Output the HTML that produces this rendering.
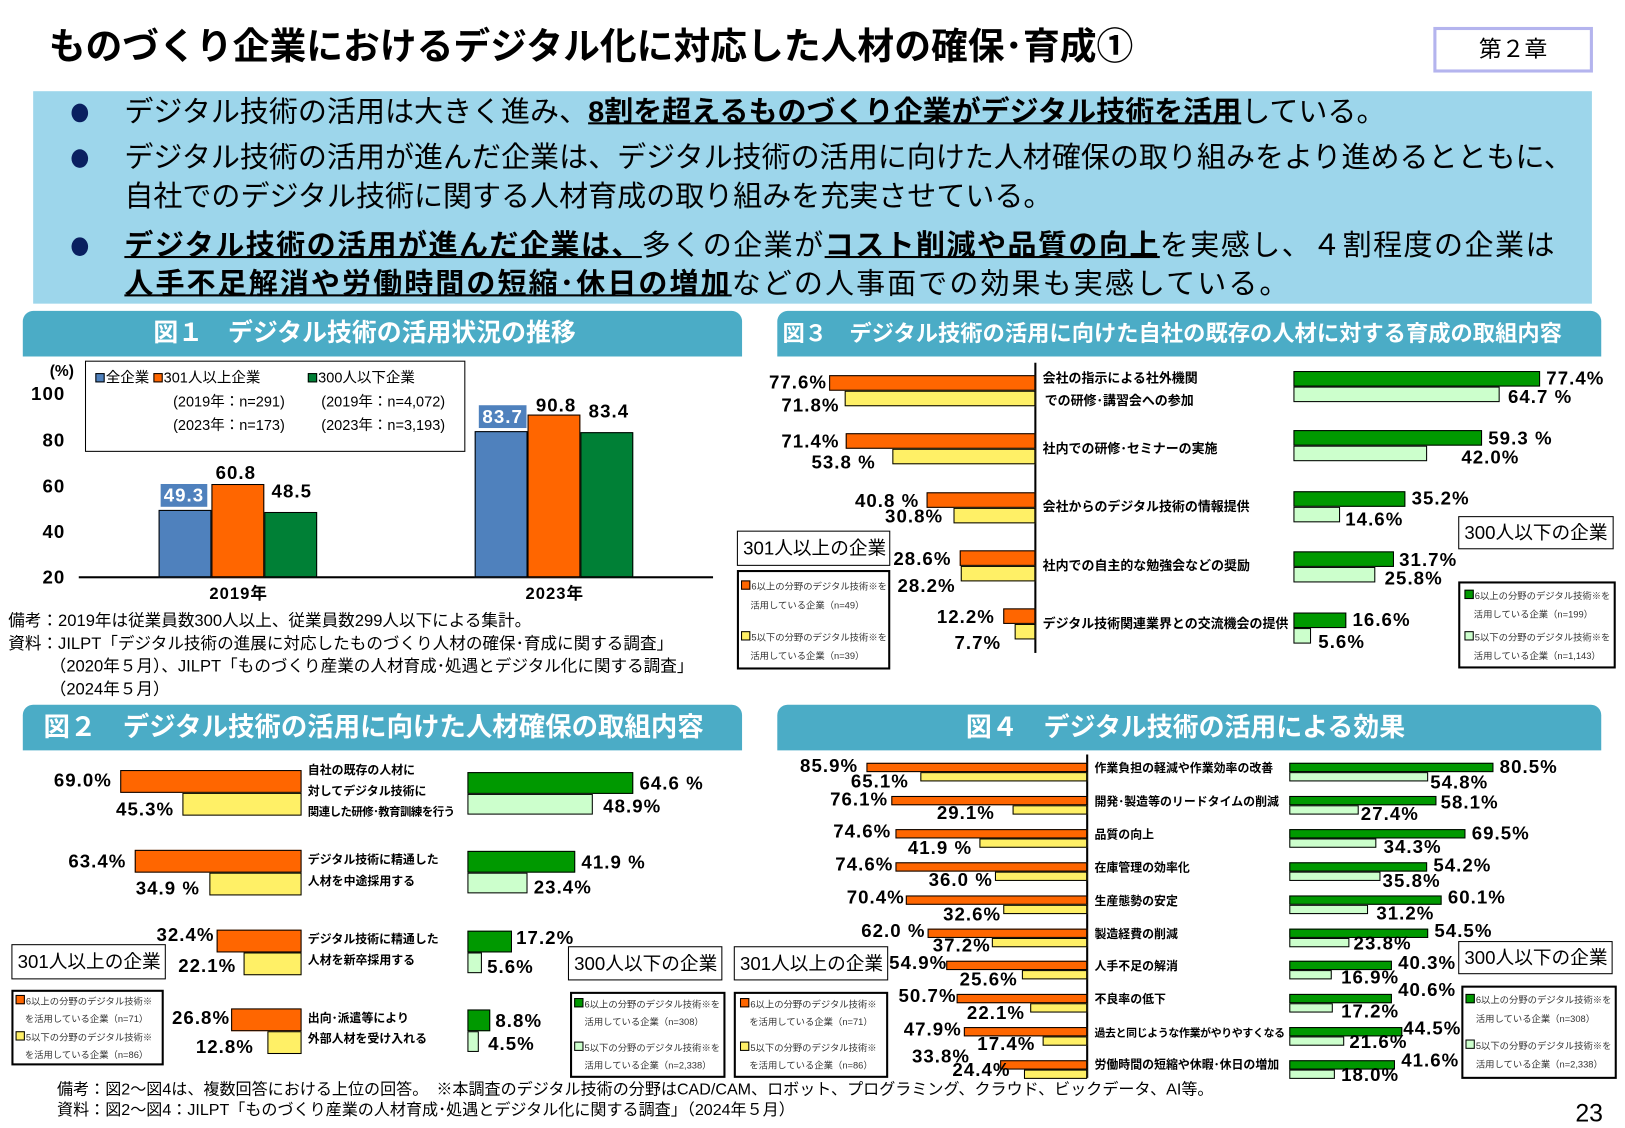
<!DOCTYPE html>
<html><head><meta charset="utf-8">
<style>
html,body{margin:0;padding:0;background:#fff;width:1625px;height:1125px;overflow:hidden}
#w{position:absolute;left:0;top:0;width:1568px;height:1085px;transform:scale(1.0364);transform-origin:0 0;font-family:"Liberation Sans","Noto Sans CJK JP",sans-serif;color:#000}
#w div{position:absolute;white-space:nowrap}
.o{background:#ff6600;border:1px solid #000;box-sizing:border-box}
.y{background:#fff066;border:1px solid #000;box-sizing:border-box}
.g{background:#009900;border:1px solid #000;box-sizing:border-box}
.l{background:#ccffcc;border:1px solid #000;box-sizing:border-box}
.v{font-family:"Liberation Sans Narrow","Liberation Sans","Noto Sans CJK JP",sans-serif;font-weight:bold;font-size:18px;line-height:18px;letter-spacing:1px}
.r{transform:translateX(-100%)}
.c{font-weight:bold;font-size:12.5px;line-height:14px}
.hd{background:#4bacc6;color:#fff;font-weight:bold;border-radius:10px 10px 0 0;height:44px;line-height:44px}
.bx{border:1px solid #000;background:#fff;font-size:18px;line-height:32px;padding:0 5px;box-sizing:border-box}
.lg{border:2px solid #000;background:#fff;box-sizing:border-box;font-size:9px;line-height:17px;color:#333;overflow:hidden}
.sq{display:inline-block;width:7px;height:7px;border:1px solid #000;margin-right:1px;vertical-align:0}
.bt{font-size:28px;line-height:36px}
.bt b{text-decoration:underline;text-decoration-thickness:2px}
.dot{width:16px;height:18px;border-radius:50%;background:#0a2060}
</style></head><body><div id="w">

<div style="left:47px;top:22px;font-size:35.5px;font-weight:bold;line-height:46px">ものづくり企業におけるデジタル化に対応した人材の確保･育成①</div>
<div style="left:1383px;top:26px;width:154px;height:44px;border:3px solid #b4b4ee;box-sizing:border-box;text-align:center;font-size:22px;line-height:38px">第２章</div>

<div style="left:32px;top:88px;width:1504px;height:205px;background:#9dd6eb"></div>
<div class="dot" style="left:69px;top:100px"></div>
<div class="dot" style="left:69px;top:144px"></div>
<div class="dot" style="left:69px;top:229px"></div>
<div class="bt" style="left:120px;top:90px">デジタル技術の活用は大きく進み、<b>8割を超えるものづくり企業がデジタル技術を活用</b>している。</div>
<div class="bt" style="left:120px;top:134px">デジタル技術の活用が進んだ企業は、デジタル技術の活用に向けた人材確保の取り組みをより進めるとともに、</div>
<div class="bt" style="left:120px;top:172px">自社でのデジタル技術に関する人材育成の取り組みを充実させている。</div>
<div class="bt" style="left:120px;top:219px;letter-spacing:1.4px"><b>デジタル技術の活用が進んだ企業は、</b>多くの企業が<b>コスト削減や品質の向上</b>を実感し、４割程度の企業は</div>
<div class="bt" style="left:120px;top:256px;letter-spacing:2px"><b>人手不足解消や労働時間の短縮･休日の増加</b>などの人事面での効果も実感している。</div>

<div class="hd" style="left:22px;top:300px;width:694px;font-size:24px;text-indent:126px">図１　デジタル技術の活用状況の推移</div>
<div class="hd" style="left:750px;top:300px;width:795px;font-size:21.5px;text-indent:5px">図３　デジタル技術の活用に向けた自社の既存の人材に対する育成の取組内容</div>
<div class="hd" style="left:22px;top:680px;width:694px;font-size:25.5px;text-indent:20px">図２　デジタル技術の活用に向けた人材確保の取組内容</div>
<div class="hd" style="left:750px;top:680px;width:795px;font-size:25px;text-indent:182px">図４　デジタル技術の活用による効果</div>

<!-- FIG 1 -->
<div style="left:48px;top:350px;font-size:15px;font-weight:bold">(%)</div>
<div class="v r" style="left:63px;top:371px">100</div>
<div class="v r" style="left:63px;top:416px">80</div>
<div class="v r" style="left:63px;top:460px">60</div>
<div class="v r" style="left:63px;top:504px">40</div>
<div class="v r" style="left:63px;top:548px">20</div>
<div style="left:76px;top:556px;width:612px;height:1.5px;background:#000"></div>
<div style="left:153px;top:492px;width:51px;height:65px;background:#4f81bd;border:1px solid #000;box-sizing:border-box"></div>
<div style="left:204px;top:467px;width:51px;height:90px;background:#ff6600;border:1px solid #000;box-sizing:border-box"></div>
<div style="left:255px;top:494px;width:51px;height:63px;background:#008036;border:1px solid #000;box-sizing:border-box"></div>
<div style="left:458px;top:416px;width:51px;height:141px;background:#4f81bd;border:1px solid #000;box-sizing:border-box"></div>
<div style="left:509px;top:400px;width:51px;height:157px;background:#ff6600;border:1px solid #000;box-sizing:border-box"></div>
<div style="left:560px;top:417px;width:51px;height:140px;background:#008036;border:1px solid #000;box-sizing:border-box"></div>
<div class="v" style="left:155px;top:467px;width:45px;height:22px;background:#4f81bd;color:#fff;line-height:22px;text-align:center">49.3</div>
<div class="v" style="left:208px;top:447px">60.8</div>
<div class="v" style="left:262px;top:465px">48.5</div>
<div class="v" style="left:462px;top:391px;width:46px;height:22px;background:#4f81bd;color:#fff;line-height:22px;text-align:center">83.7</div>
<div class="v" style="left:517px;top:382px">90.8</div>
<div class="v" style="left:568px;top:388px">83.4</div>
<div class="v" style="left:202px;top:565px;font-size:16px">2019年</div>
<div class="v" style="left:507px;top:565px;font-size:16px">2023年</div>
<div style="left:82px;top:348px;width:367px;height:88px;border:1.5px solid #000;box-sizing:border-box;font-size:14px;line-height:22px">
<div style="left:9px;top:4px"><span class="sq" style="background:#4f81bd"></span>全企業 <span class="sq" style="background:#ff6600"></span>301人以上企業</div>
<div style="left:214px;top:4px"><span class="sq" style="background:#008036"></span>300人以下企業</div>
<div style="left:84px;top:27px">(2019年：n=291)</div><div style="left:227px;top:27px">(2019年：n=4,072)</div>
<div style="left:84px;top:50px">(2023年：n=173)</div><div style="left:227px;top:50px">(2023年：n=3,193)</div>
</div>
<div style="left:8px;top:589px;font-size:16px;line-height:22px">備考：2019年は従業員数300人以上、従業員数299人以下による集計。<br>資料：JILPT「デジタル技術の進展に対応したものづくり人材の確保･育成に関する調査」<br>　　　（2020年５月）、JILPT「ものづくり産業の人材育成･処遇とデジタル化に関する調査」<br>　　　（2024年５月）</div>

<!-- FIG 3 -->
<div style="left:998px;top:350px;width:1.5px;height:280px;background:#000"></div>
<div class="o" style="left:800px;top:362px;width:199px;height:15px"></div><div class="y" style="left:815px;top:377px;width:184px;height:15px"></div>
<div class="o" style="left:816px;top:418px;width:183px;height:15px"></div><div class="y" style="left:861px;top:433px;width:138px;height:15px"></div>
<div class="o" style="left:894px;top:475px;width:105px;height:15px"></div><div class="y" style="left:920px;top:490px;width:79px;height:15px"></div>
<div class="o" style="left:926px;top:531px;width:73px;height:15px"></div><div class="y" style="left:927px;top:546px;width:72px;height:15px"></div>
<div class="o" style="left:968px;top:587px;width:31px;height:15px"></div><div class="y" style="left:979px;top:602px;width:20px;height:15px"></div>
<div class="v r" style="left:798px;top:360px">77.6%</div><div class="v r" style="left:810px;top:382px">71.8%</div>
<div class="v r" style="left:810px;top:417px">71.4%</div><div class="v r" style="left:845px;top:437px">53.8 %</div>
<div class="v r" style="left:887px;top:474px">40.8 %</div><div class="v r" style="left:910px;top:489px">30.8%</div>
<div class="v" style="left:862px;top:530px">28.6%</div><div class="v" style="left:866px;top:556px">28.2%</div>
<div class="v r" style="left:960px;top:586px">12.2%</div><div class="v r" style="left:966px;top:611px">7.7%</div>
<div class="c" style="left:1006px;top:358px">会社の指示による社外機関</div>
<div class="c" style="left:1008px;top:380px">での研修･講習会への参加</div>
<div class="c" style="left:1006px;top:426px">社内での研修･セミナーの実施</div>
<div class="c" style="left:1006px;top:482px">会社からのデジタル技術の情報提供</div>
<div class="c" style="left:1006px;top:539px">社内での自主的な勉強会などの奨励</div>
<div class="c" style="left:1006px;top:595px">デジタル技術関連業界との交流機会の提供</div>
<div class="g" style="left:1248px;top:358px;width:238px;height:15px"></div><div class="l" style="left:1248px;top:373px;width:199px;height:15px"></div>
<div class="g" style="left:1248px;top:415px;width:182px;height:15px"></div><div class="l" style="left:1248px;top:430px;width:129px;height:15px"></div>
<div class="g" style="left:1248px;top:474px;width:108px;height:15px"></div><div class="l" style="left:1248px;top:489px;width:45px;height:15px"></div>
<div class="g" style="left:1248px;top:532px;width:97px;height:15px"></div><div class="l" style="left:1248px;top:547px;width:79px;height:15px"></div>
<div class="g" style="left:1248px;top:591px;width:51px;height:15px"></div><div class="l" style="left:1248px;top:606px;width:17px;height:15px"></div>
<div class="v" style="left:1492px;top:356px">77.4%</div><div class="v" style="left:1455px;top:374px">64.7 %</div>
<div class="v" style="left:1436px;top:414px">59.3 %</div><div class="v" style="left:1410px;top:432px">42.0%</div>
<div class="v" style="left:1362px;top:472px">35.2%</div><div class="v" style="left:1298px;top:492px">14.6%</div>
<div class="v" style="left:1350px;top:531px">31.7%</div><div class="v" style="left:1336px;top:549px">25.8%</div>
<div class="v" style="left:1305px;top:589px">16.6%</div><div class="v" style="left:1272px;top:610px">5.6%</div>
<div class="bx" style="left:711px;top:512px;width:148px;height:34px">301人以上の企業</div>
<div class="lg" style="left:711px;top:550px;width:148px;height:96px"><div style="left:2px;top:6px"><span class="sq" style="background:#ff6600"></span>6以上の分野のデジタル技術※を</div><div style="left:11px;top:24px">活用している企業（n=49）</div><div style="left:2px;top:55px"><span class="sq" style="background:#fff066"></span>5以下の分野のデジタル技術※を</div><div style="left:11px;top:73px">活用している企業（n=39）</div></div>
<div class="bx" style="left:1407px;top:498px;width:150px;height:32px;line-height:30px">300人以下の企業</div>
<div class="lg" style="left:1407px;top:561px;width:152px;height:84px"><div style="left:4px;top:4px"><span class="sq" style="background:#009900"></span>6以上の分野のデジタル技術※を</div><div style="left:13px;top:22px">活用している企業（n=199）</div><div style="left:4px;top:44px"><span class="sq" style="background:#ccffcc"></span>5以下の分野のデジタル技術※を</div><div style="left:13px;top:62px">活用している企業（n=1,143）</div></div>

<!-- FIG 2 -->
<div class="o" style="left:116px;top:743px;width:175px;height:22px"></div><div class="y" style="left:176px;top:765px;width:115px;height:22px"></div>
<div class="o" style="left:130px;top:820px;width:161px;height:22px"></div><div class="y" style="left:202px;top:842px;width:89px;height:22px"></div>
<div class="o" style="left:209px;top:897px;width:82px;height:22px"></div><div class="y" style="left:235px;top:919px;width:56px;height:22px"></div>
<div class="o" style="left:223px;top:973px;width:68px;height:22px"></div><div class="y" style="left:258px;top:995px;width:33px;height:22px"></div>
<div class="v r" style="left:108px;top:744px">69.0%</div><div class="v r" style="left:168px;top:772px">45.3%</div>
<div class="v r" style="left:122px;top:822px">63.4%</div><div class="v r" style="left:193px;top:848px">34.9 %</div>
<div class="v r" style="left:207px;top:893px">32.4%</div><div class="v r" style="left:228px;top:923px">22.1%</div>
<div class="v r" style="left:222px;top:973px">26.8%</div><div class="v r" style="left:245px;top:1001px">12.8%</div>
<div class="c" style="left:297px;top:737px;font-size:11.5px">自社の既存の人材に</div>
<div class="c" style="left:297px;top:757px;font-size:11.5px">対してデジタル技術に</div>
<div class="c" style="left:297px;top:777px;font-size:11px;letter-spacing:-0.5px">関連した研修･教育訓練を行う</div>
<div class="c" style="left:297px;top:823px;font-size:11.5px">デジタル技術に精通した</div>
<div class="c" style="left:297px;top:844px;font-size:11.5px">人材を中途採用する</div>
<div class="c" style="left:297px;top:900px;font-size:11.5px">デジタル技術に精通した</div>
<div class="c" style="left:297px;top:920px;font-size:11.5px">人材を新卒採用する</div>
<div class="c" style="left:297px;top:976px;font-size:11.5px">出向･派遣等により</div>
<div class="c" style="left:297px;top:996px;font-size:11.5px">外部人材を受け入れる</div>
<div class="g" style="left:451px;top:745px;width:160px;height:21px"></div><div class="l" style="left:451px;top:766px;width:121px;height:20px"></div>
<div class="g" style="left:451px;top:821px;width:104px;height:21px"></div><div class="l" style="left:451px;top:842px;width:58px;height:20px"></div>
<div class="g" style="left:451px;top:898px;width:43px;height:21px"></div><div class="l" style="left:451px;top:919px;width:14px;height:20px"></div>
<div class="g" style="left:451px;top:974px;width:22px;height:21px"></div><div class="l" style="left:451px;top:995px;width:11px;height:20px"></div>
<div class="v" style="left:617px;top:747px">64.6 %</div><div class="v" style="left:582px;top:769px">48.9%</div>
<div class="v" style="left:561px;top:823px">41.9 %</div><div class="v" style="left:515px;top:847px">23.4%</div>
<div class="v" style="left:498px;top:896px">17.2%</div><div class="v" style="left:470px;top:924px">5.6%</div>
<div class="v" style="left:478px;top:976px">8.8%</div><div class="v" style="left:471px;top:998px">4.5%</div>
<div class="bx" style="left:11px;top:911px;width:149px;height:34px">301人以上の企業</div>
<div class="lg" style="left:11px;top:955px;width:147px;height:73px"><div style="left:2px;top:1px"><span class="sq" style="background:#ff6600"></span>6以上の分野のデジタル技術※</div><div style="left:11px;top:18px">を活用している企業（n=71）</div><div style="left:2px;top:36px"><span class="sq" style="background:#fff066"></span>5以下の分野のデジタル技術※</div><div style="left:11px;top:53px">を活用している企業（n=86）</div></div>
<div class="bx" style="left:548px;top:913px;width:149px;height:33px">300人以下の企業</div>
<div class="lg" style="left:550px;top:957px;width:150px;height:83px"><div style="left:2px;top:2px"><span class="sq" style="background:#009900"></span>6以上の分野のデジタル技術※を</div><div style="left:12px;top:19px">活用している企業（n=308）</div><div style="left:2px;top:44px"><span class="sq" style="background:#ccffcc"></span>5以下の分野のデジタル技術※を</div><div style="left:12px;top:61px">活用している企業（n=2,338）</div></div>

<!-- FIG 4 -->
<div style="left:1048px;top:728px;width:1.5px;height:312px;background:#000"></div>
<div class="o" style="left:836px;top:736px;width:213px;height:9px"></div><div class="y" style="left:888px;top:745px;width:161px;height:9px"></div>
<div class="o" style="left:860px;top:768px;width:189px;height:9px"></div><div class="y" style="left:977px;top:777px;width:72px;height:9px"></div>
<div class="o" style="left:864px;top:800px;width:185px;height:9px"></div><div class="y" style="left:945px;top:809px;width:104px;height:9px"></div>
<div class="o" style="left:864px;top:832px;width:185px;height:9px"></div><div class="y" style="left:960px;top:841px;width:89px;height:9px"></div>
<div class="o" style="left:874px;top:864px;width:175px;height:9px"></div><div class="y" style="left:968px;top:873px;width:81px;height:9px"></div>
<div class="o" style="left:895px;top:896px;width:154px;height:9px"></div><div class="y" style="left:957px;top:905px;width:92px;height:9px"></div>
<div class="o" style="left:913px;top:927px;width:136px;height:9px"></div><div class="y" style="left:986px;top:936px;width:63px;height:9px"></div>
<div class="o" style="left:923px;top:959px;width:126px;height:9px"></div><div class="y" style="left:994px;top:968px;width:55px;height:9px"></div>
<div class="o" style="left:930px;top:991px;width:119px;height:9px"></div><div class="y" style="left:1006px;top:1000px;width:43px;height:9px"></div>
<div class="o" style="left:965px;top:1023px;width:84px;height:9px"></div><div class="y" style="left:988px;top:1032px;width:61px;height:9px"></div>
<div class="v r" style="left:828px;top:730px">85.9%</div><div class="v r" style="left:877px;top:745px">65.1%</div>
<div class="v r" style="left:857px;top:762px">76.1%</div><div class="v r" style="left:960px;top:775px">29.1%</div>
<div class="v r" style="left:860px;top:793px">74.6%</div><div class="v r" style="left:938px;top:809px">41.9 %</div>
<div class="v r" style="left:862px;top:825px">74.6%</div><div class="v r" style="left:958px;top:840px">36.0 %</div>
<div class="v r" style="left:873px;top:857px">70.4%</div><div class="v r" style="left:966px;top:873px">32.6%</div>
<div class="v r" style="left:893px;top:889px">62.0 %</div><div class="v r" style="left:956px;top:903px">37.2%</div>
<div class="v r" style="left:914px;top:920px">54.9%</div><div class="v r" style="left:982px;top:936px">25.6%</div>
<div class="v r" style="left:923px;top:952px">50.7%</div><div class="v r" style="left:989px;top:968px">22.1%</div>
<div class="v r" style="left:928px;top:984px">47.9%</div><div class="v r" style="left:999px;top:998px">17.4%</div>
<div class="v r" style="left:936px;top:1010px">33.8%</div><div class="v r" style="left:975px;top:1023px">24.4%</div>
<div class="c" style="left:1056px;top:735px;font-size:11.5px">作業負担の軽減や作業効率の改善</div>
<div class="c" style="left:1056px;top:767px;font-size:11.5px">開発･製造等のリードタイムの削減</div>
<div class="c" style="left:1056px;top:799px;font-size:11.5px">品質の向上</div>
<div class="c" style="left:1056px;top:831px;font-size:11.5px">在庫管理の効率化</div>
<div class="c" style="left:1056px;top:863px;font-size:11.5px">生産態勢の安定</div>
<div class="c" style="left:1056px;top:895px;font-size:11.5px">製造経費の削減</div>
<div class="c" style="left:1056px;top:926px;font-size:11.5px">人手不足の解消</div>
<div class="c" style="left:1056px;top:958px;font-size:11.5px">不良率の低下</div>
<div class="c" style="left:1056px;top:990px;font-size:10.5px;letter-spacing:-0.3px">過去と同じような作業がやりやすくなる</div>
<div class="c" style="left:1056px;top:1021px;font-size:11.5px">労働時間の短縮や休暇･休日の増加</div>
<div class="g" style="left:1244px;top:736px;width:197px;height:9px"></div><div class="l" style="left:1244px;top:745px;width:134px;height:9px"></div>
<div class="g" style="left:1244px;top:768px;width:142px;height:9px"></div><div class="l" style="left:1244px;top:777px;width:67px;height:9px"></div>
<div class="g" style="left:1244px;top:800px;width:170px;height:9px"></div><div class="l" style="left:1244px;top:809px;width:84px;height:9px"></div>
<div class="g" style="left:1244px;top:832px;width:133px;height:9px"></div><div class="l" style="left:1244px;top:841px;width:88px;height:9px"></div>
<div class="g" style="left:1244px;top:864px;width:147px;height:9px"></div><div class="l" style="left:1244px;top:873px;width:76px;height:9px"></div>
<div class="g" style="left:1244px;top:896px;width:134px;height:9px"></div><div class="l" style="left:1244px;top:905px;width:58px;height:9px"></div>
<div class="g" style="left:1244px;top:927px;width:99px;height:9px"></div><div class="l" style="left:1244px;top:936px;width:41px;height:9px"></div>
<div class="g" style="left:1244px;top:959px;width:99px;height:9px"></div><div class="l" style="left:1244px;top:968px;width:42px;height:9px"></div>
<div class="g" style="left:1244px;top:991px;width:109px;height:9px"></div><div class="l" style="left:1244px;top:1000px;width:53px;height:9px"></div>
<div class="g" style="left:1244px;top:1023px;width:102px;height:9px"></div><div class="l" style="left:1244px;top:1032px;width:44px;height:9px"></div>
<div class="v" style="left:1447px;top:731px">80.5%</div><div class="v" style="left:1380px;top:746px">54.8%</div>
<div class="v" style="left:1390px;top:765px">58.1%</div><div class="v" style="left:1313px;top:776px">27.4%</div>
<div class="v" style="left:1420px;top:795px">69.5%</div><div class="v" style="left:1335px;top:808px">34.3%</div>
<div class="v" style="left:1383px;top:826px">54.2%</div><div class="v" style="left:1334px;top:841px">35.8%</div>
<div class="v" style="left:1397px;top:857px">60.1%</div><div class="v" style="left:1328px;top:872px">31.2%</div>
<div class="v" style="left:1384px;top:889px">54.5%</div><div class="v" style="left:1306px;top:901px">23.8%</div>
<div class="v" style="left:1349px;top:920px">40.3%</div><div class="v" style="left:1294px;top:934px">16.9%</div>
<div class="v" style="left:1349px;top:946px">40.6%</div><div class="v" style="left:1294px;top:967px">17.2%</div>
<div class="v" style="left:1354px;top:983px">44.5%</div><div class="v" style="left:1302px;top:996px">21.6%</div>
<div class="v" style="left:1352px;top:1014px">41.6%</div><div class="v" style="left:1294px;top:1028px">18.0%</div>
<div class="bx" style="left:708px;top:913px;width:149px;height:33px">301人以上の企業</div>
<div class="lg" style="left:708px;top:957px;width:149px;height:83px"><div style="left:4px;top:2px"><span class="sq" style="background:#ff6600"></span>6以上の分野のデジタル技術※</div><div style="left:13px;top:19px">を活用している企業（n=71）</div><div style="left:4px;top:44px"><span class="sq" style="background:#fff066"></span>5以下の分野のデジタル技術※</div><div style="left:13px;top:61px">を活用している企業（n=86）</div></div>
<div class="bx" style="left:1407px;top:908px;width:149px;height:32px;line-height:30px">300人以下の企業</div>
<div class="lg" style="left:1410px;top:951px;width:150px;height:90px"><div style="left:2px;top:4px"><span class="sq" style="background:#009900"></span>6以上の分野のデジタル技術※を</div><div style="left:12px;top:22px">活用している企業（n=308）</div><div style="left:2px;top:48px"><span class="sq" style="background:#ccffcc"></span>5以下の分野のデジタル技術※を</div><div style="left:12px;top:66px">活用している企業（n=2,338）</div></div>

<div style="left:55px;top:1042px;font-size:15.5px;line-height:20px">備考：図2～図4は、複数回答における上位の回答。　※本調査のデジタル技術の分野はCAD/CAM、ロボット、プログラミング、クラウド、ビックデータ、AI等。<br>資料：図2～図4：JILPT「ものづくり産業の人材育成･処遇とデジタル化に関する調査」（2024年５月）</div>
<div style="left:1520px;top:1062px;font-size:24px;line-height:26px">23</div>
</div></body></html>
